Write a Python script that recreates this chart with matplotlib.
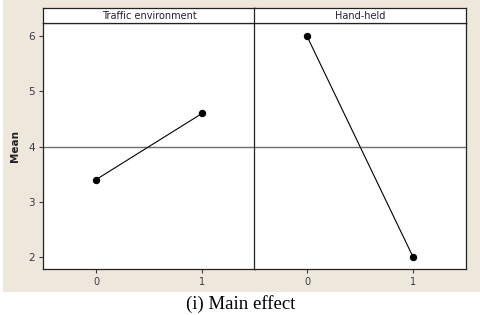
import matplotlib
matplotlib.use("Agg")
import matplotlib.pyplot as plt
from matplotlib.patches import Rectangle

# main effects data
factors = ["Traffic environment", "Hand-held"]
levels = [0, 1]
means = [[3.4, 4.6], [6.0, 2.0]]
grand_mean = 4.0
yticks = [2, 3, 4, 5, 6]

W, H = 480, 315
fig = plt.figure(figsize=(W / 100, H / 100), dpi=100)
fig.patch.set_facecolor("white")
# beige panel behind the plot
fig.patches.append(Rectangle((3 / W, 1 - 292 / H), 1 - 3 / W, 292 / H,
                             transform=fig.transFigure, facecolor="#ede7dc",
                             edgecolor="none", zorder=-10))

tick_col = "#3a3a4a"
lefts = [43, 254]
pw = 212
for i, name in enumerate(factors):
    x0 = lefts[i] / W
    ax = fig.add_axes([x0, 1 - 269 / H, pw / W, 246 / H])
    ax.set_facecolor("white")
    ax.axhline(grand_mean, color="#6e6e6e", lw=1.0, zorder=1)
    ax.plot(levels, means[i], color="black", lw=0.8, marker="o", ms=4.3,
            zorder=3)
    ax.set_xlim(-0.5, 1.5)
    ax.set_ylim(1.78, 6.24)
    ax.set_xticks(levels)
    ax.set_xticklabels([str(v) for v in levels])
    ax.tick_params(axis="x", length=3, width=0.8, colors=tick_col,
                   labelsize=7, pad=3)
    if i == 0:
        ax.set_yticks(yticks)
        ax.tick_params(axis="y", length=3, width=0.8, colors=tick_col,
                       labelsize=7.5, pad=3)
        ax.set_ylabel("Mean", fontsize=7.5, fontweight="bold", labelpad=6,
                      color="#222222")
    else:
        ax.set_yticks([])
    for s in ax.spines.values():
        s.set_color("#222222")
        s.set_linewidth(0.9)

    # strip with factor name
    sx = fig.add_axes([x0, 1 - 23 / H, pw / W, 15 / H])
    sx.set_facecolor("white")
    sx.set_xticks([])
    sx.set_yticks([])
    for s in sx.spines.values():
        s.set_color("#222222")
        s.set_linewidth(0.9)
    sx.text(0.5, 0.45, name, ha="center", va="center", fontsize=7,
            color="#222233", transform=sx.transAxes)

fig.text(241 / W, 1 - 304 / H, "(i) Main effect", ha="center", va="center",
         fontsize=13.5, family="Liberation Serif")

fig.savefig("out.png", dpi=100)
